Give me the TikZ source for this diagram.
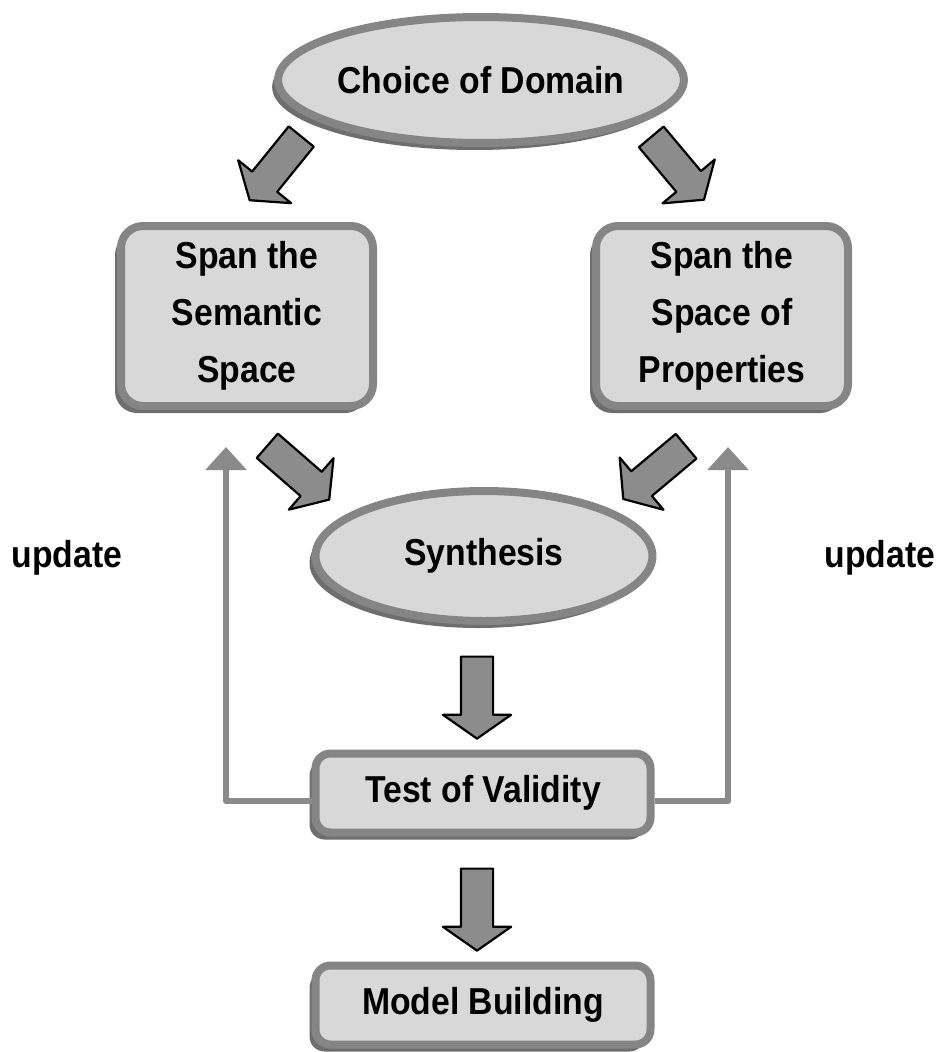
\documentclass[tikz,border=0pt]{standalone}
\usepackage{fontspec}
\setmainfont[FakeStretch=0.9]{Liberation Sans}
\usetikzlibrary{shapes.geometric,shapes.arrows,shadows,arrows.meta}
\definecolor{boxfill}{HTML}{D8D8D8}
\definecolor{boxedge}{HTML}{858585}
\definecolor{boxshade}{HTML}{6E6E6E}
\definecolor{arrowfill}{HTML}{8C8C8C}
\definecolor{loopgray}{HTML}{8A8A8A}
\begin{document}
\begin{tikzpicture}[x=1pt, y=-1pt, font=\bfseries\fontsize{37.5}{57}\selectfont, line join=round,
  stage/.style={fill=boxfill, draw=boxedge, line width=8pt, inner sep=0pt, align=center, drop shadow={shadow xshift=-6pt, shadow yshift=-7pt, fill=boxshade, opacity=1}},
  oval/.style={stage, ellipse},
  panel/.style={stage, rounded corners=22pt, minimum width=252pt, minimum height=180pt},
  bar/.style={stage, rounded corners=15pt, minimum width=335pt, minimum height=79pt},
  blockarrow/.style={single arrow, draw=black, line width=2.2pt, fill=arrowfill, minimum height=82pt, minimum width=66pt, single arrow head extend=18pt, single arrow tip angle=110, single arrow head indent=0pt, inner xsep=0pt, inner ysep=15pt},
  feedback/.style={draw=loopgray, line width=6pt, -{Triangle[width=40pt,length=23pt]}}]
	\useasboundingbox (0,0) rectangle (940,1052);
	% stages
	\node[oval, minimum width=325pt, minimum height=126pt] (domain) at (481,80) {Choice of Domain};
	\node[panel] (semantic) at (247,316) {Span the\\Semantic\\Space};
	\node[panel] (properties) at (722,316) {Span the\\Space of\\Properties};
	\node[oval, minimum width=337pt, minimum height=130pt] (synthesis) at (484,556) {Synthesis};
	\node[bar] (validity) at (483,793) {Test of Validity};
	\node[bar] (model) at (483,1005) {Model Building};
	% block arrows
	\foreach \pos/\ang/\n in {(279,164)/231/1, (674,164)/-50/2, (294,469)/-41/3, (659,469)/220/4, (477,692)/-90/5, (477,904)/-90/6}
		\node[blockarrow, rotate=\ang] (flow\n) at \pos {};
	% update loops
	\coordinate (tipL) at (226,447);
	\coordinate (tipR) at (728,447);
	\draw[feedback] ([yshift=-8pt]validity.west) -| (tipL);
	\draw[feedback] ([yshift=-8pt]validity.east) -| (tipR);
	\node[anchor=base] (updateL) at (67,567) {update};
	\node[anchor=base] (updateR) at (880,567) {update};
\end{tikzpicture}
\end{document}
